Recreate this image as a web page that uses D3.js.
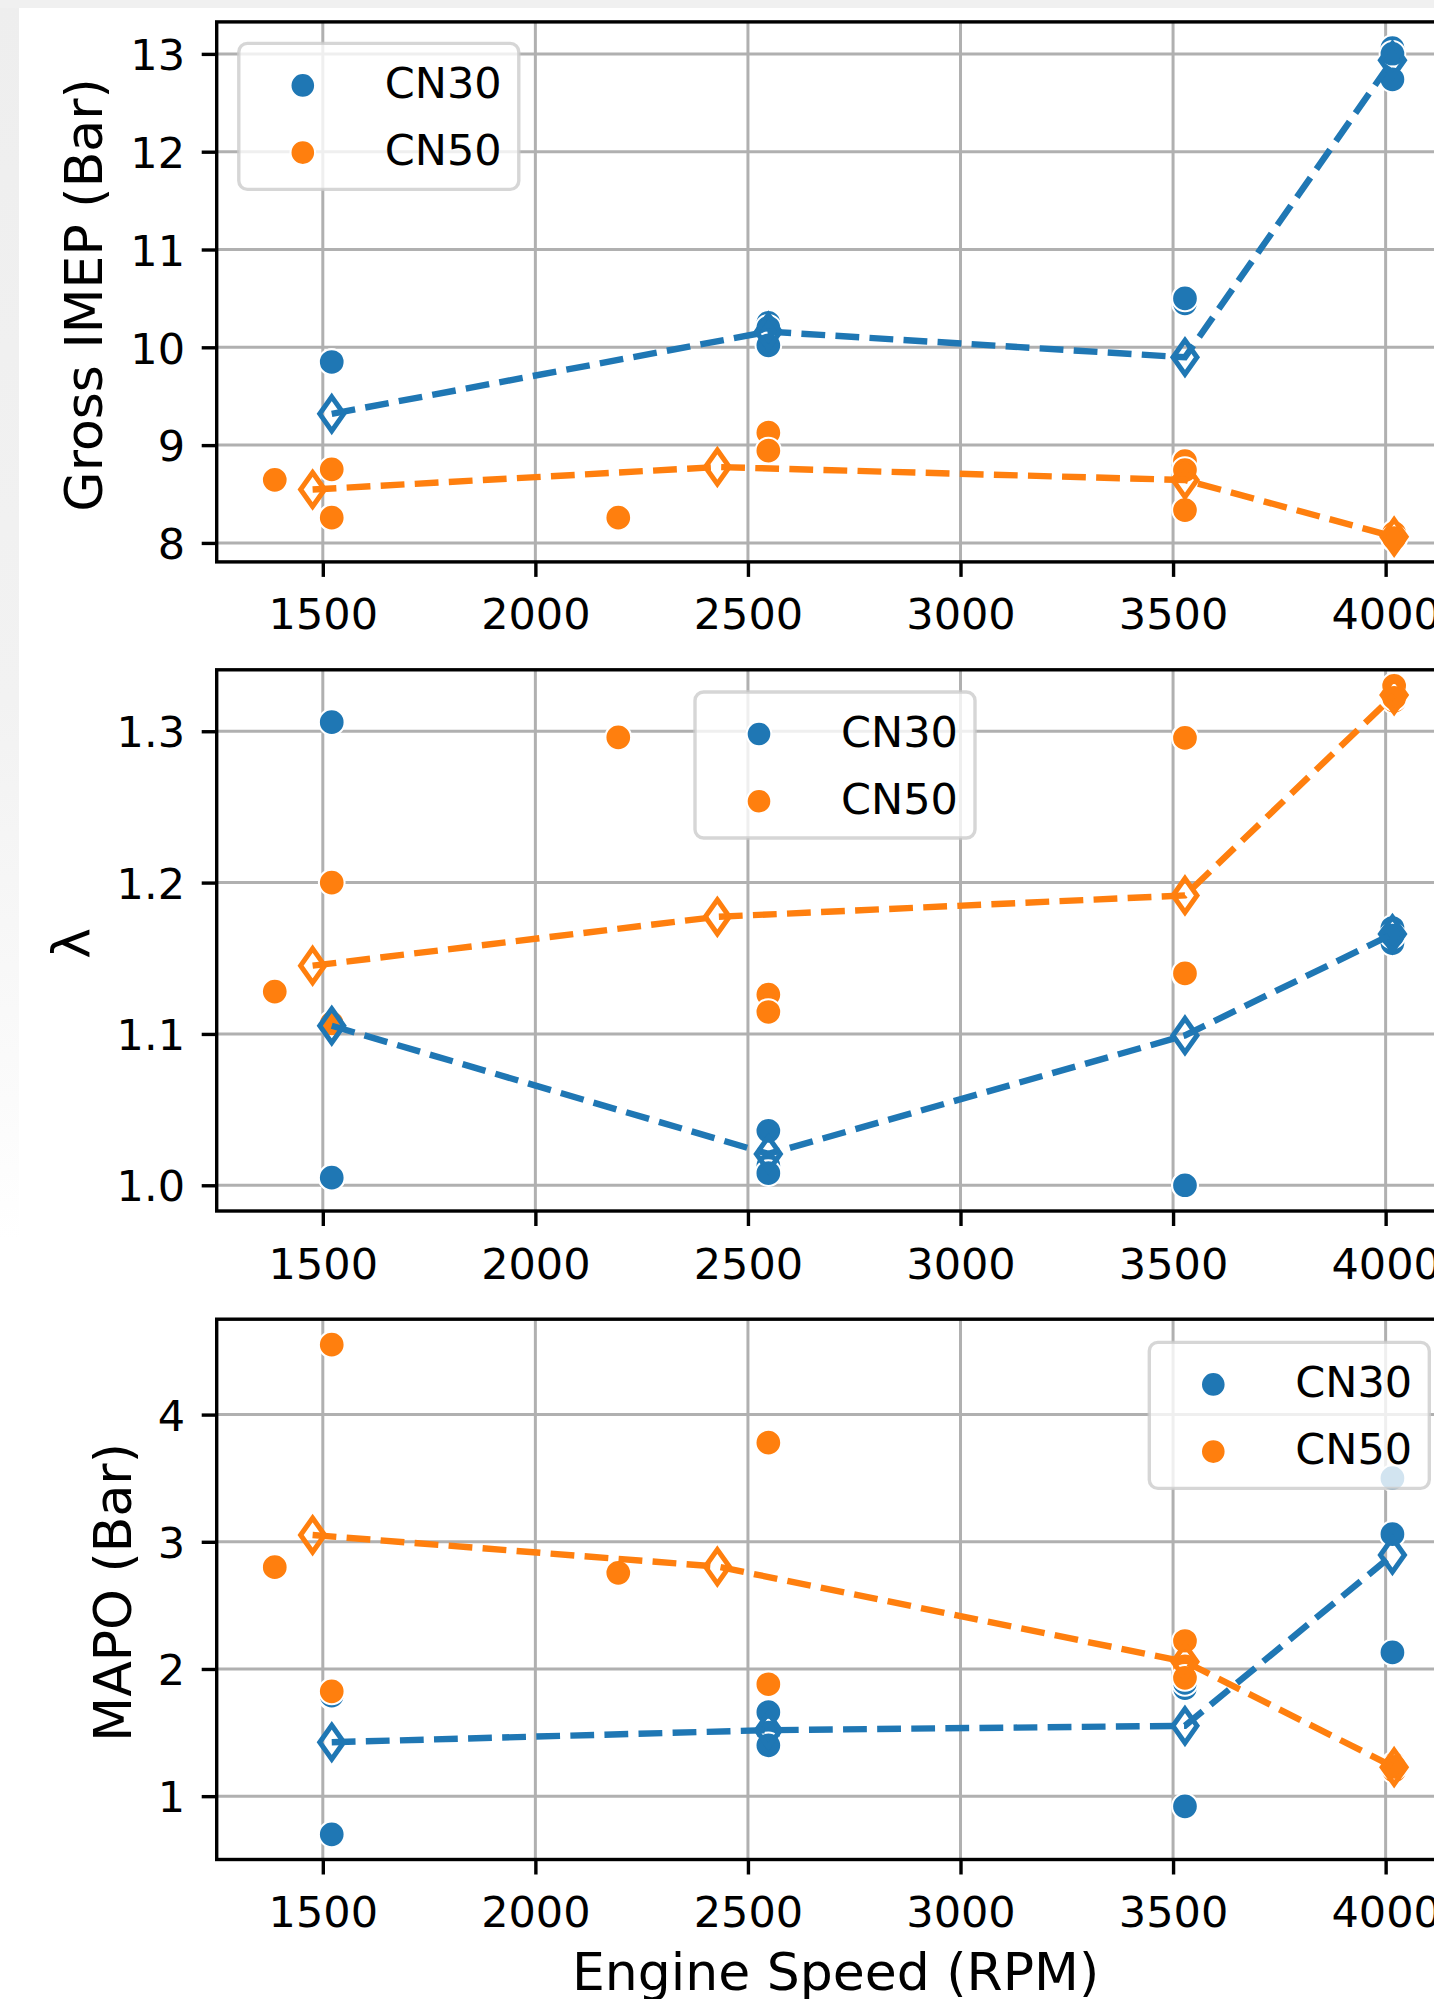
<!DOCTYPE html>
<html><head><meta charset="utf-8">
<script src="https://cdn.jsdelivr.net/npm/d3@7"></script>
<style>body{margin:0;background:#fff}svg{display:block}text{font-family:"DejaVu Sans",sans-serif}</style>
</head><body><svg id="c" width="1434" height="1999"></svg>
<script>
// ---------------- data ----------------
const series = ["CN30", "CN50"];
const colors = ["#1f77b4", "#ff7f0e"];
const xTicks = [1500, 2000, 2500, 3000, 3500, 4000];
const imepTicks = [8, 9, 10, 11, 12, 13];
const lambdaTicks = [1.0, 1.1, 1.2, 1.3];
const mapoTicks = [1, 2, 3, 4];

const rpmCN30 = [1521, 1521, 1521, 2548, 2548, 2548, 3528, 3528, 3528, 4016, 4016, 4016];
const imepCN30 = [9.85, 9.85, 8.26, 10.25, 10.20, 10.02, 10.45, 10.50, 8.74, 13.06, 13.00, 12.74];
const lambdaCN30 = [1.306, 1.005, 1.005, 1.036, 1.013, 1.008, 1.000, 1.000, 1.296, 1.170, 1.160, 1.165];
const mapoCN30 = [1.78, 1.79, 0.70, 1.66, 1.50, 1.40, 0.92, 1.85, 1.89, 3.50, 3.06, 2.13];

const rpmCN50 = [1387, 1521, 1521, 2195, 2548, 2548, 3528, 3528, 3528, 4020, 4020, 4020];
const imepCN50 = [8.645, 8.753, 8.258, 8.258, 9.127, 8.943, 8.837, 8.745, 8.336, 8.10, 8.04, 8.05];
const lambdaCN50 = [1.128, 1.200, 1.107, 1.296, 1.126, 1.1145, 1.2956, 1.139, 1.140, 1.320, 1.330, 1.322];
const mapoCN50 = [2.80, 4.55, 1.824, 2.756, 3.779, 1.88, 2.22, 2.02, 1.93, 1.20, 1.25, 1.23];

const meanRpmCN30 = [1521, 2548, 3528, 4016];
const meanImepCN30 = [9.32, 10.16, 9.898, 12.935];
const meanLambdaCN30 = [1.1054, 1.0207, 1.099, 1.166];
const meanMapoCN30 = [1.424, 1.519, 1.553, 2.896];
const meanRpmCN50 = [1476, 2428, 3528, 4020];
const meanImepCN50 = [8.546, 8.776, 8.643, 8.064];
const meanLambdaCN50 = [1.1451, 1.1774, 1.1915, 1.3239];
const meanMapoCN50 = [3.053, 2.805, 2.057, 1.228];

// ---------------- layout ----------------
const W = 1434, H = 1999;
const L = 216.7, R = 1454.5;
const TICK_FS = 43, LABEL_FS = 52;
const svg = d3.select("#c");

const defs = svg.append("defs");
const grad = defs.append("linearGradient").attr("id", "lg").attr("x1", 0).attr("y1", 0).attr("x2", 0).attr("y2", 1);
grad.append("stop").attr("offset", "0%").attr("stop-color", "#eeeeee");
grad.append("stop").attr("offset", "35%").attr("stop-color", "#f2f2f2");
grad.append("stop").attr("offset", "55%").attr("stop-color", "#fbfbfb");
grad.append("stop").attr("offset", "62%").attr("stop-color", "#ffffff");
svg.append("rect").attr("x", 0).attr("y", 0).attr("width", W).attr("height", H).attr("fill", "#fff");
svg.append("rect").attr("x", 0).attr("y", 0).attr("width", 19).attr("height", H).attr("fill", "url(#lg)");
svg.append("rect").attr("x", 0).attr("y", 0).attr("width", W).attr("height", 8).attr("fill", "#f0f0f0");

const x = d3.scaleLinear().domain([1250.4, 4162]).range([L, R]);

const panels = [
  { top: 21.9, bottom: 561.9, domain: [7.806, 13.327], ticks: imepTicks, fmt: d3.format("d"),
    label: "Gross IMEP (Bar)", labelX: 102,
    vals: [imepCN30, imepCN50], means: [meanImepCN30, meanImepCN50],
    legend: { x: 238.8, y: 43.4 } },
  { top: 669.8, bottom: 1211, domain: [0.983, 1.3406], ticks: lambdaTicks, fmt: d3.format(".1f"),
    label: "λ", labelX: 89,
    vals: [lambdaCN30, lambdaCN50], means: [meanLambdaCN30, meanLambdaCN50],
    legend: { x: 695, y: 692 } },
  { top: 1319.2, bottom: 1859.5, domain: [0.502, 4.75], ticks: mapoTicks, fmt: d3.format("d"),
    label: "MAPO (Bar)", labelX: 131,
    vals: [mapoCN30, mapoCN50], means: [meanMapoCN30, meanMapoCN50],
    legend: { x: 1149.3, y: 1342.4 } }
];
const rpms = [rpmCN30, rpmCN50];
const meanRpms = [meanRpmCN30, meanRpmCN50];

const diamond = (h, w) => `M0,${-h / 2}L${w / 2},0L0,${h / 2}L${-w / 2},0Z`;

panels.forEach(p => {
  const y = d3.scaleLinear().domain(p.domain).range([p.bottom, p.top]);
  const g = svg.append("g");

  g.append("rect").attr("x", L).attr("y", p.top).attr("width", R - L).attr("height", p.bottom - p.top).attr("fill", "#fff");

  g.append("g").selectAll("line").data(xTicks).join("line")
    .attr("x1", d => x(d)).attr("x2", d => x(d)).attr("y1", p.top).attr("y2", p.bottom)
    .attr("stroke", "#b0b0b0").attr("stroke-width", 3);
  g.append("g").selectAll("line").data(p.ticks).join("line")
    .attr("x1", L).attr("x2", R).attr("y1", d => y(d)).attr("y2", d => y(d))
    .attr("stroke", "#b0b0b0").attr("stroke-width", 3);

  series.forEach((s, i) => {
    g.append("g").selectAll("circle").data(d3.range(rpms[i].length)).join("circle")
      .attr("cx", k => x(rpms[i][k])).attr("cy", k => y(p.vals[i][k]))
      .attr("r", 12.85).attr("fill", colors[i]).attr("stroke", "#fff").attr("stroke-width", 2);
  });

  series.forEach((s, i) => {
    const pts = meanRpms[i].map((r, k) => [r, p.means[i][k]]);
    g.append("path").datum(pts)
      .attr("d", d3.line().x(d => x(d[0])).y(d => y(d[1])))
      .attr("fill", "none").attr("stroke", colors[i]).attr("stroke-width", 6.4)
      .attr("stroke-dasharray", "23.8 10.3");
    g.append("g").selectAll("path").data(pts).join("path")
      .attr("d", diamond(34, 24))
      .attr("transform", d => `translate(${x(d[0])},${y(d[1])})`)
      .attr("fill", "none").attr("stroke", colors[i]).attr("stroke-width", 5)
      .attr("stroke-linejoin", "miter").attr("stroke-miterlimit", 10);
  });

  g.append("rect").attr("x", L).attr("y", p.top).attr("width", R - L).attr("height", p.bottom - p.top)
    .attr("fill", "none").attr("stroke", "#000").attr("stroke-width", 3.4);

  const xa = g.append("g").attr("transform", `translate(0,${p.bottom})`)
    .call(d3.axisBottom(x).tickValues(xTicks).tickSize(15).tickSizeOuter(0).tickPadding(22).tickFormat(d3.format("d")));
  const ya = g.append("g").attr("transform", `translate(${L},0)`)
    .call(d3.axisLeft(y).tickValues(p.ticks).tickSize(15).tickSizeOuter(0).tickPadding(16.7).tickFormat(p.fmt));
  [xa, ya].forEach(a => {
    a.select(".domain").remove();
    a.selectAll(".tick line").attr("stroke", "#000").attr("stroke-width", 3.4);
    a.selectAll(".tick text").attr("fill", "#000").attr("font-size", TICK_FS)
      .attr("font-family", "DejaVu Sans");
    a.attr("font-family", null).attr("font-size", null);
  });
  ya.selectAll(".tick text").attr("dy", "0.365em");

  const cy = (p.top + p.bottom) / 2 + 3;
  g.append("text").attr("transform", `translate(${p.labelX},${cy}) rotate(-90)`)
    .attr("text-anchor", "middle").attr("font-size", LABEL_FS).attr("fill", "#000").text(p.label);

  const lg = g.append("g").attr("transform", `translate(${p.legend.x},${p.legend.y})`);
  lg.append("rect").attr("width", 280).attr("height", 146).attr("rx", 8.6).attr("ry", 8.6)
    .attr("fill", "#fff").attr("fill-opacity", 0.8)
    .attr("stroke", "#cccccc").attr("stroke-opacity", 0.8).attr("stroke-width", 3.4);
  series.forEach((s, i) => {
    const yy = 42 + i * 67.2;
    lg.append("circle").attr("cx", 64).attr("cy", yy).attr("r", 12.3)
      .attr("fill", colors[i]).attr("stroke", "#fff").attr("stroke-width", 2);
    lg.append("text").attr("x", 146).attr("y", yy - 3).attr("dy", "0.365em")
      .attr("font-size", TICK_FS).attr("fill", "#000").text(s);
  });
});

svg.append("text").attr("x", (L + R) / 2).attr("y", 1990).attr("text-anchor", "middle")
  .attr("font-size", LABEL_FS).attr("fill", "#000").text("Engine Speed (RPM)");
</script></body></html>
